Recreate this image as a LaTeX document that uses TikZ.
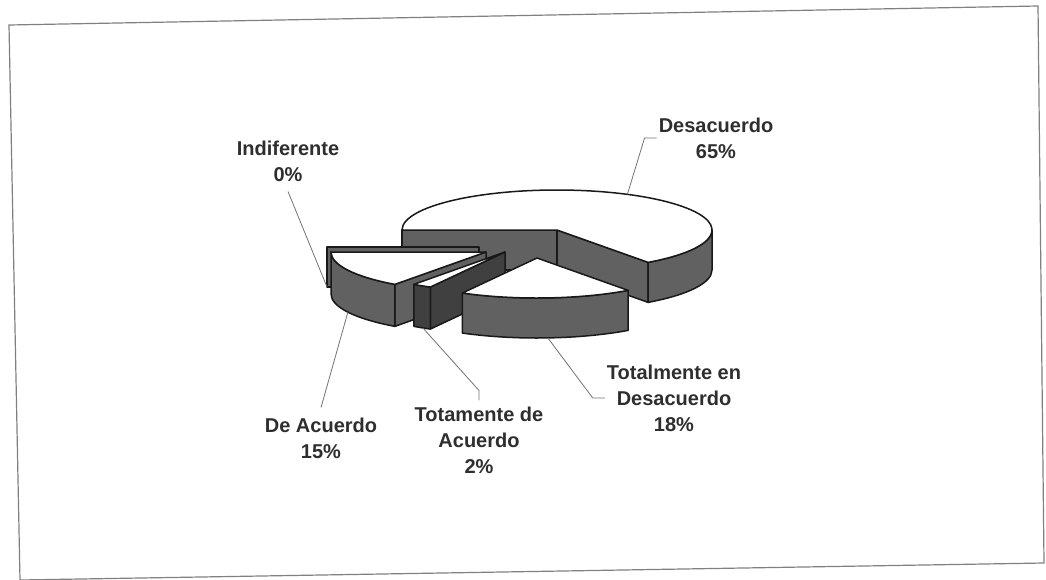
\documentclass[tikz,border=0pt]{standalone}
\usepackage{fontspec}
\setmainfont{Liberation Sans}
\usepackage{tikz}
\usetikzlibrary{positioning}

\tikzset{
  pared/.style={draw=black!90, fill=black!62, line width=1.5pt, line join=round},
  tapa/.style={draw=black!90, fill=white, line width=1.5pt, line join=round},
  guia/.style={draw=black!55, line width=0.8pt},
  etiqueta/.style={font=\fontsize{20}{26}\selectfont\bfseries, text=black!82, align=center, inner sep=2pt}
}

\begin{document}
\begin{tikzpicture}[x=1pt,y=1pt]
\useasboundingbox (0,0) rectangle (1046,-579);

% Marco
\draw[black!50, line width=1.2pt] (9,-25) -- (1038,-6) -- (1044,-563) -- (20,-580) -- cycle;

% Desacuerdo 65%
\begin{scope}[shift={(557,-230)}]
  \draw[pared] (0,0) -- (180:155 and 40) -- ++(0,-40) -- (0,-40) -- cycle;
  \draw[pared] (0,0) -- (-54:155 and 40) -- ++(0,-40) -- (0,-40) -- cycle;
  \draw[pared] (-54:155 and 40) arc[start angle=-54, end angle=0, x radius=155, y radius=40]
    -- ++(0,-40) arc[start angle=0, end angle=-54, x radius=155, y radius=40] -- cycle;
  \draw[tapa] (0,0) -- (-54:155 and 40) arc[start angle=-54, end angle=180, x radius=155, y radius=40] -- cycle;
  \coordinate (pDesac) at (63:155 and 40);
\end{scope}

% Indiferente 0%
\begin{scope}[shift={(479,-247)}]
  \draw[pared] (0,0) -- (-152,0) -- (-152,-40) -- (0,-40) -- cycle;
  \coordinate (pIndif) at (-152,-40);
\end{scope}

% De Acuerdo 15%
\begin{scope}[shift={(486,-252)}]
  \draw[pared] (0,0) -- (-126:155 and 40) -- ++(0,-42) -- (0,-42) -- cycle;
  \draw[pared] (-180:155 and 40) arc[start angle=-180, end angle=-126, x radius=155, y radius=40]
    -- ++(0,-42) arc[start angle=-126, end angle=-180, x radius=155, y radius=40] -- cycle;
  \draw[tapa] (0,0) -- (-180:155 and 40) arc[start angle=-180, end angle=-126, x radius=155, y radius=40] -- cycle;
  \path (-153:155 and 40) ++(0,-42) coordinate (pDeAc);
\end{scope}

% Totamente de Acuerdo 2%
\begin{scope}[shift={(505,-252)}]
  \draw[pared, fill=black!75] (0,0) -- (-118.8:155 and 40) -- ++(0,-42) -- (0,-42) -- cycle;
  \draw[pared, fill=black!75] (-126:155 and 40) arc[start angle=-126, end angle=-118.8, x radius=155, y radius=40]
    -- ++(0,-42) arc[start angle=-118.8, end angle=-126, x radius=155, y radius=40] -- cycle;
  \draw[tapa] (0,0) -- (-126:155 and 40) arc[start angle=-126, end angle=-118.8, x radius=155, y radius=40] -- cycle;
  \path (-122:155 and 40) ++(0,-42) coordinate (pTotAc);
\end{scope}

% Totalmente en Desacuerdo 18%
\begin{scope}[shift={(537,-258)}]
  \draw[pared] (-118.8:155 and 40) arc[start angle=-118.8, end angle=-54, x radius=155, y radius=40]
    -- ++(0,-40) arc[start angle=-54, end angle=-118.8, x radius=155, y radius=40] -- cycle;
  \draw[tapa] (0,0) -- (-118.8:155 and 40) arc[start angle=-118.8, end angle=-54, x radius=155, y radius=40] -- cycle;
  \path (-86:155 and 40) ++(0,-40) coordinate (pTED);
\end{scope}

% Etiquetas
\node[etiqueta] (lblDesac) at (716,-138) {Desacuerdo\\65\%};
\node[etiqueta] (lblIndif) at (288,-161) {Indiferente\\0\%};
\node[etiqueta] (lblDeAc) at (321,-438) {De Acuerdo\\15\%};
\node[etiqueta] (lblTotAc) at (479,-440) {Totamente de\\Acuerdo\\2\%};
\node[etiqueta] (lblTED) at (674,-398) {Totalmente en\\Desacuerdo\\18\%};

% Lineas guia
\draw[guia] (lblDesac.west) -- ++(-12,0) -- (pDesac);
\draw[guia] ([yshift=-8pt]lblIndif.south) -- (pIndif);
\draw[guia] ([yshift=8pt]lblDeAc.north) -- (pDeAc);
\draw[guia] ([yshift=4pt]lblTotAc.north) -- ++(0,10) -- (pTotAc);
\draw[guia] (lblTED.west) -- ++(-12,0) -- (pTED);

\end{tikzpicture}
\end{document}
